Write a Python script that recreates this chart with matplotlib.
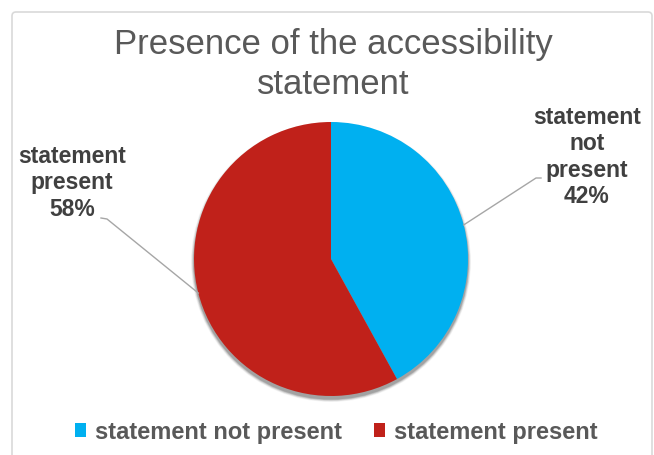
import numpy as np
import matplotlib.pyplot as plt
from matplotlib.patches import Circle, FancyBboxPatch

plt.rcParams['font.family'] = ['Liberation Sans', 'DejaVu Sans']

categories = ['statement not present', 'statement present']
shares = [42, 58]
colors = ['#00B0F0', '#C0211A']
label_text = ['statement\nnot\npresent\n42%', 'statement\npresent\n58%']

W, H = 654, 455
fig = plt.figure(figsize=(W / 100, H / 100), dpi=100)
ax = fig.add_axes([0, 0, 1, 1])

cx, cy, r = 331, H - 259, 137

# soft shadow under the pie
for k, a in zip(range(5, 0, -1), [0.04, 0.06, 0.08, 0.1, 0.14]):
    ax.add_patch(Circle((cx, cy - 3), r + k * 0.6, color='black', alpha=a, lw=0, zorder=1))

wedges, _ = ax.pie(shares, colors=colors, startangle=90, counterclock=False,
                   center=(cx, cy), radius=r, wedgeprops=dict(linewidth=0, zorder=2))
for w in wedges:
    w.set_zorder(2)

ax.set_xlim(0, W)
ax.set_ylim(0, H)
ax.set_aspect('equal')
ax.axis('off')

# chart frame
ax.add_patch(FancyBboxPatch((12, H - 462), 640, 450, boxstyle='round,pad=0,rounding_size=4',
                            fc='none', ec='#D9D9D9', lw=1.2, zorder=0))

# title
ax.text(333, H - 54, 'Presence of the accessibility', ha='center', va='baseline',
        fontsize=25, color='#595959')
ax.text(333, H - 94, 'statement', ha='center', va='baseline',
        fontsize=25, color='#595959')

# data labels with leader lines
label_pos = [(587, H - 157), (72, H - 183)]
elbows = [((536, H - 178), (541, H - 178)), ((107, H - 219), (101, H - 218))]
for w, txt, pos, (e1, e2) in zip(wedges, label_text, label_pos, elbows):
    mid = np.deg2rad((w.theta1 + w.theta2) / 2)
    px, py = cx + r * np.cos(mid), cy + r * np.sin(mid)
    ax.plot([px, e1[0], e2[0]], [py, e1[1], e2[1]], color='#A6A6A6', lw=1, zorder=3)
    ax.text(pos[0], pos[1], txt, ha='center', va='center', fontsize=16.5,
            fontweight='bold', color='#404040', linespacing=1.2)

leg = ax.legend(wedges, categories, loc='center', bbox_to_anchor=(336 / W, 1 - 432 / H),
                ncol=2, frameon=False, handlelength=0.5, handleheight=0.5,
                handletextpad=0.35, columnspacing=1.35,
                prop=dict(size=17, weight='bold'))
for t in leg.get_texts():
    t.set_color('#595959')

fig.savefig('out.png', dpi=100)
